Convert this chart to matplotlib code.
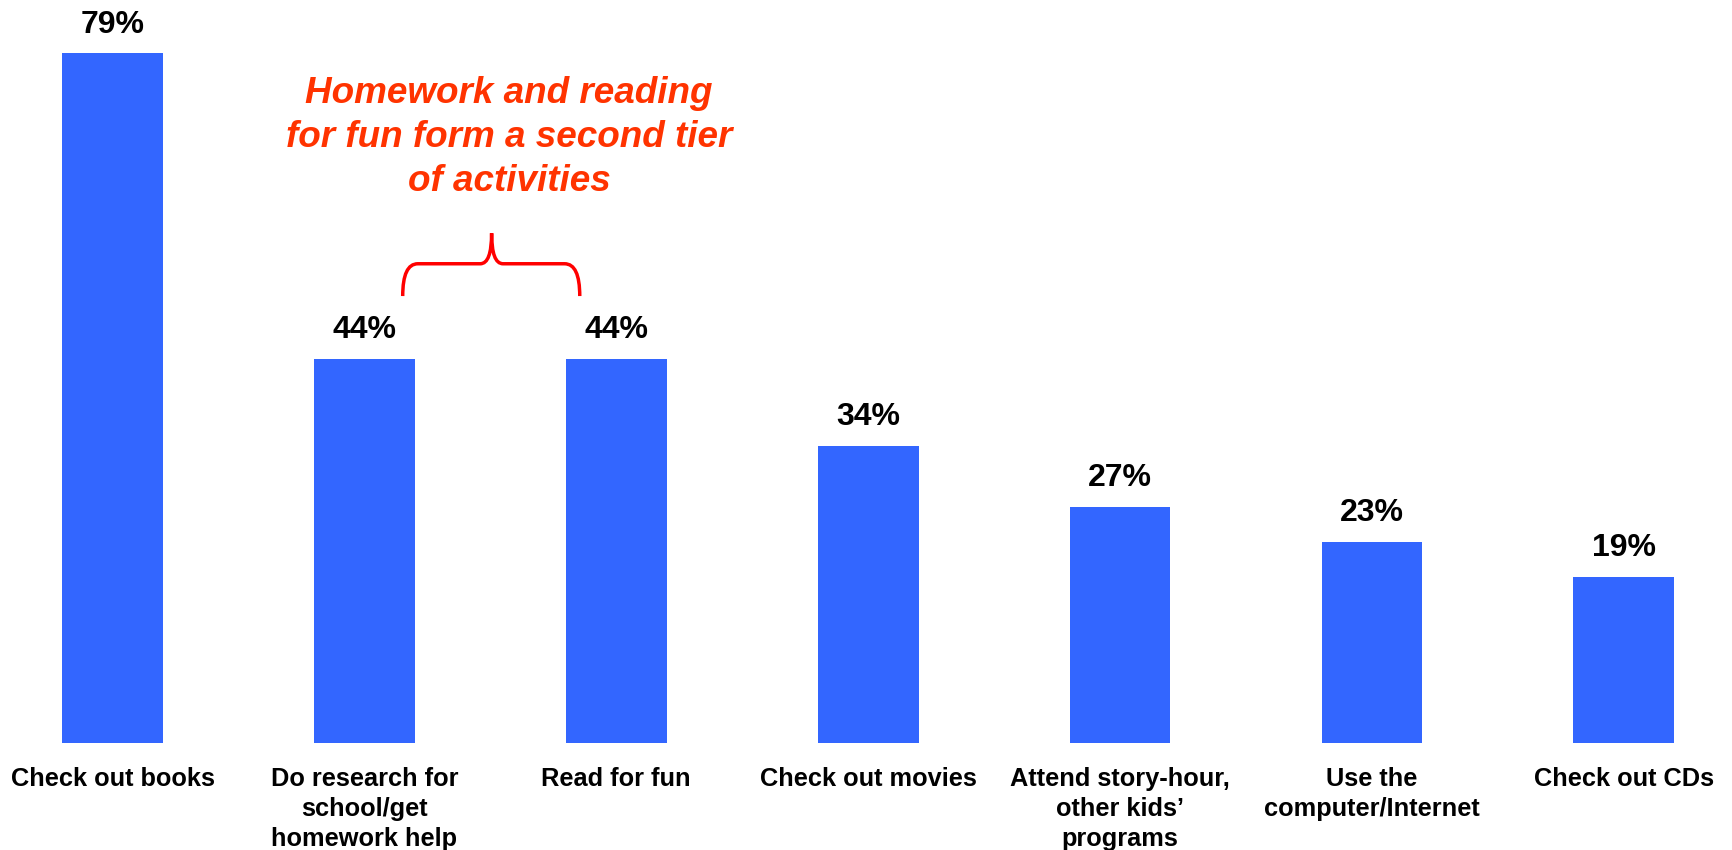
import matplotlib
matplotlib.use("Agg")
import matplotlib.pyplot as plt
from matplotlib.path import Path
from matplotlib.patches import PathPatch

categories = ["Check out books", "Do research for\nschool/get\nhomework help", "Read for fun",
              "Check out movies", "Attend story-hour,\nother kids\u2019\nprograms",
              "Use the\ncomputer/Internet", "Check out CDs"]
values = [79, 44, 44, 34, 27, 23, 19]
callout = "Homework and reading\nfor fun form a second tier\nof activities"

plt.rcParams["font.family"] = ["Liberation Sans", "DejaVu Sans"]

fig = plt.figure(figsize=(17.33, 8.5), dpi=100)
ax = fig.add_axes([0.001, 1 - 743 / 850, 0.997, 742 / 850])

x = range(len(values))
ax.bar(x, values, width=0.4, color="#3366FF")
for i, v in enumerate(values):
    ax.annotate(f"{v}%", (i, v), xytext=(0, 15), textcoords="offset points",
                ha="center", va="baseline", fontsize=23, fontweight="bold")

ax.set_xlim(-0.44, 6.42)
ax.set_ylim(0, 85)
ax.set_xticks(list(x))
ax.set_xticklabels(categories, fontsize=18.3, fontweight="bold", linespacing=1.33)
ax.tick_params(axis="x", length=0, pad=17)
ax.set_yticks([])
for s in ax.spines.values():
    s.set_visible(False)

# callout text + curly brace over the two 44% bars
ax.text(1.575, 69.4, callout, ha="center", va="center", fontsize=26.6,
        fontweight="bold", fontstyle="italic", color="#FF3300", linespacing=1.33)

x0, x1, xm = 1.152, 1.855, 1.505
yb, yh, yt = 51.2, 54.9, 58.4
dx, dm = 0.06, 0.045
verts = [(x0, yb), (x0, yh), (x0 + dx, yh),
         (xm - dm, yh), (xm, yh), (xm, yt),
         (xm, yh), (xm + dm, yh),
         (x1 - dx, yh), (x1, yh), (x1, yb)]
codes = [Path.MOVETO, Path.CURVE3, Path.CURVE3,
         Path.LINETO, Path.CURVE3, Path.CURVE3,
         Path.CURVE3, Path.CURVE3,
         Path.LINETO, Path.CURVE3, Path.CURVE3]
ax.add_patch(PathPatch(Path(verts, codes), fill=False, edgecolor="#FF0000", lw=2.5))

fig.savefig("out.png", dpi=100)
